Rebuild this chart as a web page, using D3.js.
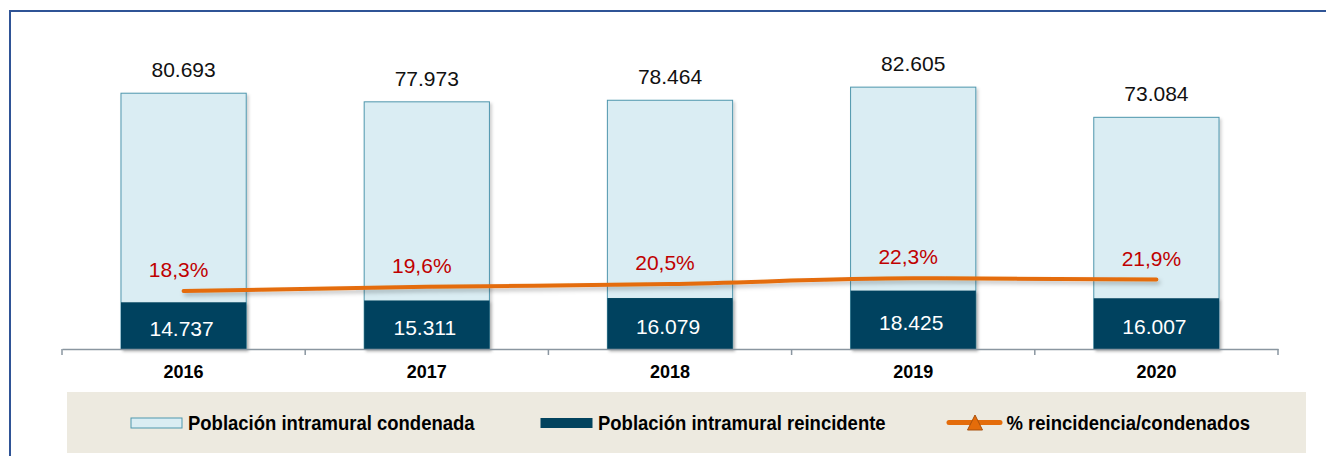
<!DOCTYPE html>
<html>
<head>
<meta charset="utf-8">
<script src="https://cdn.jsdelivr.net/npm/d3@7"></script>
<style>
  html, body { margin: 0; padding: 0; background: #fff; }
  svg { display: block; font-family: "Liberation Sans", Arial, sans-serif; }
</style>
</head>
<body>
<div id="chart"></div>
<script>
// data
const years = ['2016', '2017', '2018', '2019', '2020'];
const condenada = [80693, 77973, 78464, 82605, 73084];
const reincidente = [14737, 15311, 16079, 18425, 16007];
const pctReinc = [18.3, 19.6, 20.5, 22.3, 21.9];
const legendLabels = ['Población intramural condenada', 'Población intramural reincidente', '% reincidencia/condenados'];

const W = 1326, H = 456;
const fmtN = v => d3.format(',')(v).replace(/,/g, '.');
const fmtP = v => d3.format('.1f')(v).replace('.', ',') + '%';

const svg = d3.select('#chart').append('svg').attr('width', W).attr('height', H);

// soft shadows
const defs = svg.append('defs');
const sh = defs.append('filter').attr('id', 'sh').attr('x', '-10%').attr('y', '-10%').attr('width', '130%').attr('height', '140%');
sh.append('feDropShadow').attr('dx', 2).attr('dy', 2).attr('stdDeviation', 1.5).attr('flood-color', '#000').attr('flood-opacity', 0.18);
const shL = defs.append('filter').attr('id', 'shL').attr('x', '-5%').attr('y', '-200%').attr('width', '110%').attr('height', '500%');
shL.append('feDropShadow').attr('dx', 2).attr('dy', 3).attr('stdDeviation', 2).attr('flood-color', '#000').attr('flood-opacity', 0.25);

// frame (top + left)
svg.append('path').attr('d', `M10,${H} L10,11 L${W},11`)
  .attr('fill', 'none').attr('stroke', '#2f5496').attr('stroke-width', 2);

const x = d3.scaleBand().domain(years).range([62, 1278]).padding(0);
const barW = x.bandwidth() * 0.515;
const bx = d => x(d) + (x.bandwidth() - barW) / 2;
const cx = d => x(d) + x.bandwidth() / 2;
const y = d3.scaleLinear().domain([0, 100000]).range([349, 32]);
const yP = d3.scaleLinear().domain([0, 100]).range([349, 32]);

const g = svg.append('g');

// light bars (total)
g.selectAll('rect.tot').data(years).join('rect').attr('class', 'tot')
  .attr('x', d => bx(d)).attr('width', barW)
  .attr('y', (d, i) => y(condenada[i])).attr('height', (d, i) => y(0) - y(condenada[i]))
  .attr('fill', '#daedf3').attr('stroke', '#4f97ad').attr('stroke-width', 1)
  .attr('filter', 'url(#sh)');

// dark bars (reincidente)
g.selectAll('rect.rei').data(years).join('rect').attr('class', 'rei')
  .attr('x', d => bx(d)).attr('width', barW)
  .attr('y', (d, i) => y(reincidente[i])).attr('height', (d, i) => y(0) - y(reincidente[i]))
  .attr('fill', '#02435e').attr('filter', 'url(#sh)');

// axis
const axis = svg.append('g').attr('transform', `translate(0,${y(0)})`)
  .call(d3.axisBottom(x).tickSize(0).tickFormat(''));
axis.select('.domain').attr('stroke', '#8a96a0').attr('stroke-width', 1.5);
const bounds = years.map(d => x(d)).concat([x.range()[1]]);
axis.selectAll('line.sep').data(bounds).join('line').attr('class', 'sep')
  .attr('x1', d => d).attr('x2', d => d).attr('y1', 0).attr('y2', 6)
  .attr('stroke', '#8a96a0').attr('stroke-width', 1.5);

// year labels
svg.selectAll('text.yr').data(years).join('text').attr('class', 'yr')
  .attr('x', d => cx(d)).attr('y', 378).attr('text-anchor', 'middle')
  .style('font-size', '18px').style('font-weight', 'bold').attr('fill', '#000').text(d => d);

// total labels
svg.selectAll('text.tl').data(years).join('text').attr('class', 'tl')
  .attr('x', d => cx(d)).attr('y', (d, i) => y(condenada[i]) - 16).attr('text-anchor', 'middle')
  .style('font-size', '21px').attr('fill', '#111').text((d, i) => fmtN(condenada[i]));

// reincidente labels
svg.selectAll('text.rl').data(years).join('text').attr('class', 'rl')
  .attr('x', d => cx(d) - 2).attr('y', (d, i) => (y(reincidente[i]) + y(0)) / 2 + 10).attr('text-anchor', 'middle')
  .style('font-size', '21px').attr('fill', '#fff').text((d, i) => fmtN(reincidente[i]));

// percent line
const line = d3.line().x((d, i) => cx(years[i])).y(d => yP(d)).curve(d3.curveMonotoneX);
svg.append('path').datum(pctReinc).attr('d', line)
  .attr('fill', 'none').attr('stroke', '#e46c0a').attr('stroke-width', 4)
  .attr('stroke-linecap', 'round').attr('filter', 'url(#shL)');

svg.selectAll('text.pl').data(pctReinc).join('text').attr('class', 'pl')
  .attr('x', (d, i) => cx(years[i]) - 5).attr('y', d => yP(d) - 14).attr('text-anchor', 'middle')
  .style('font-size', '21px').attr('fill', '#c00000').text(d => fmtP(d));

// legend
const lg = svg.append('g');
lg.append('rect').attr('x', 67).attr('y', 392).attr('width', 1239).attr('height', 61).attr('fill', '#edeae0');
const ly = 423;
lg.append('rect').attr('x', 131).attr('y', ly - 5).attr('width', 51).attr('height', 10)
  .attr('fill', '#daedf3').attr('stroke', '#4f97ad');
lg.append('rect').attr('x', 540.5).attr('y', ly - 5).attr('width', 52).attr('height', 10)
  .attr('fill', '#02435e');
lg.append('line').attr('x1', 949).attr('x2', 1000).attr('y1', ly - 0.5).attr('y2', ly - 0.5)
  .attr('stroke', '#e46c0a').attr('stroke-width', 5).attr('stroke-linecap', 'round');
const tx = 975;
lg.append('path').attr('d', `M${tx},${ly - 8} L${tx + 7.5},${ly + 7} L${tx - 7.5},${ly + 7} Z`)
  .attr('fill', '#e46c0a').attr('stroke', '#a9500c').attr('stroke-width', 1);
// slightly condensed bold labels
const textX = [188, 598, 1006.5];
lg.selectAll('text').data(legendLabels).join('text')
  .attr('transform', (d, i) => `translate(${textX[i]},430) scale(0.925,1)`)
  .style('font-size', '20px').style('font-weight', 'bold').attr('fill', '#000').text(d => d);
</script>
</body>
</html>
